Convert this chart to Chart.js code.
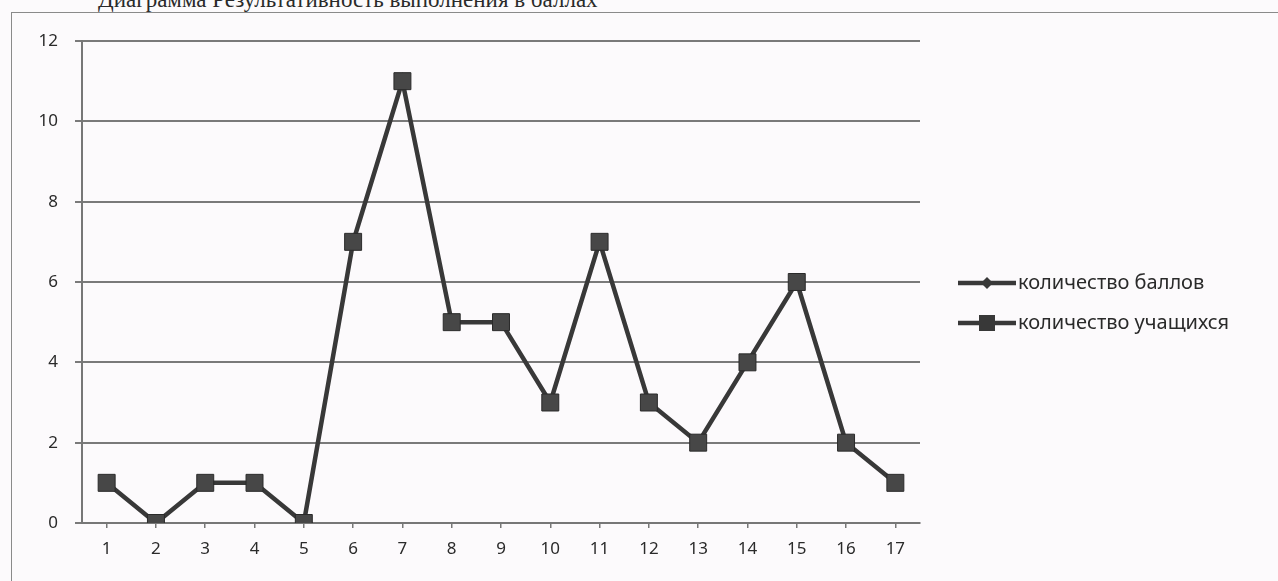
<!DOCTYPE html>
<html>
<head>
<meta charset="utf-8">
<script src="https://cdn.jsdelivr.net/npm/chart.js@4"></script>
<style>
html,body{margin:0;padding:0;background:#fcfafc;overflow:hidden;}
#wrap{position:relative;width:1278px;height:581px;}
#frame{position:absolute;left:11px;top:12px;width:1300px;height:600px;border:1.5px solid #8a8a8a;box-sizing:border-box;}
#title{position:absolute;left:98px;top:-13px;font-family:"Liberation Serif",serif;font-size:23px;color:#2a2a2a;white-space:nowrap;}
canvas{position:absolute;left:0;top:0;}
</style>
</head>
<body>
<div id="wrap">
<div id="title">Диаграмма Результативность выполнения в баллах</div>
<div id="frame"></div>
<canvas id="c" width="1278" height="581"></canvas>
</div>
<script>
const categories = ["1","2","3","4","5","6","7","8","9","10","11","12","13","14","15","16","17"];
const seriesNames = ["количество баллов", "количество учащихся"];
const scores = [null,null,null,null,null,null,null,null,null,null,null,null,null,null,null,null,null];
const students = [1,0,1,1,0,7,11,5,5,3,7,3,2,4,6,2,1];
const yTicks = [0,2,4,6,8,10,12];

const lineColor = '#383838';
const font = {family: "'Noto Sans', sans-serif", size: 17};

const legendPlugin = {
  id: 'excelLegend',
  afterDraw(chart) {
    const ctx = chart.ctx;
    const x0 = 958, ys = [283, 323];
    chart.data.datasets.forEach((ds, i) => {
      const y = ys[i];
      ctx.save();
      ctx.strokeStyle = lineColor;
      ctx.lineWidth = 4.5;
      ctx.beginPath(); ctx.moveTo(x0, y); ctx.lineTo(x0 + 58, y); ctx.stroke();
      ctx.fillStyle = lineColor;
      if (ds.pointStyle === 'rectRot') {
        ctx.beginPath(); ctx.moveTo(x0+29, y-6); ctx.lineTo(x0+35, y); ctx.lineTo(x0+29, y+6); ctx.lineTo(x0+23, y); ctx.closePath(); ctx.fill();
      } else {
        ctx.fillRect(x0 + 21, y - 8, 16, 16);
      }
      ctx.font = "20px 'Noto Sans', sans-serif";
      ctx.textBaseline = 'middle';
      ctx.fillStyle = '#2a2a2a';
      ctx.fillText(ds.label, x0 + 60, y);
      ctx.restore();
    });
  }
};

new Chart(document.getElementById('c'), {
  type: 'line',
  data: {
    labels: categories,
    datasets: [
      {label: seriesNames[0], data: scores, borderColor: lineColor, backgroundColor: lineColor, pointStyle: 'rectRot', borderWidth: 4.5, pointRadius: 8},
      {label: seriesNames[1], data: students, borderColor: lineColor, backgroundColor: '#474747', pointStyle: 'rect', borderWidth: 4.5, pointRadius: 12, pointBorderWidth: 1, pointBorderColor: '#2a2a2a'}
    ]
  },
  options: {
    responsive: false,
    animation: false,
    layout: {padding: {left: 0, top: 41, right: 358, bottom: 0}},
    plugins: {legend: {display: false}, tooltip: {enabled: false}},
    scales: {
      x: {
        offset: true,
        afterFit(s) { s.height = 58; },
        grid: {display: true, drawOnChartArea: false, drawTicks: true, tickLength: 5, color: '#777', lineWidth: 1.5},
        border: {display: true, color: '#777', width: 2},
        ticks: {color: '#2a2a2a', font: font, padding: 11, maxRotation: 0}
      },
      y: {
        min: 0, max: 12,
        afterFit(s) { s.width = 82; },
        afterBuildTicks(s) { s.ticks = yTicks.map(v => ({value: v})); },
        grid: {color: '#7a7a7a', lineWidth: 2, drawTicks: true, tickLength: 7},
        border: {display: true, color: '#777', width: 2},
        ticks: {color: '#2a2a2a', font: font, padding: 17}
      }
    }
  },
  plugins: [legendPlugin]
});
</script>
</body>
</html>
